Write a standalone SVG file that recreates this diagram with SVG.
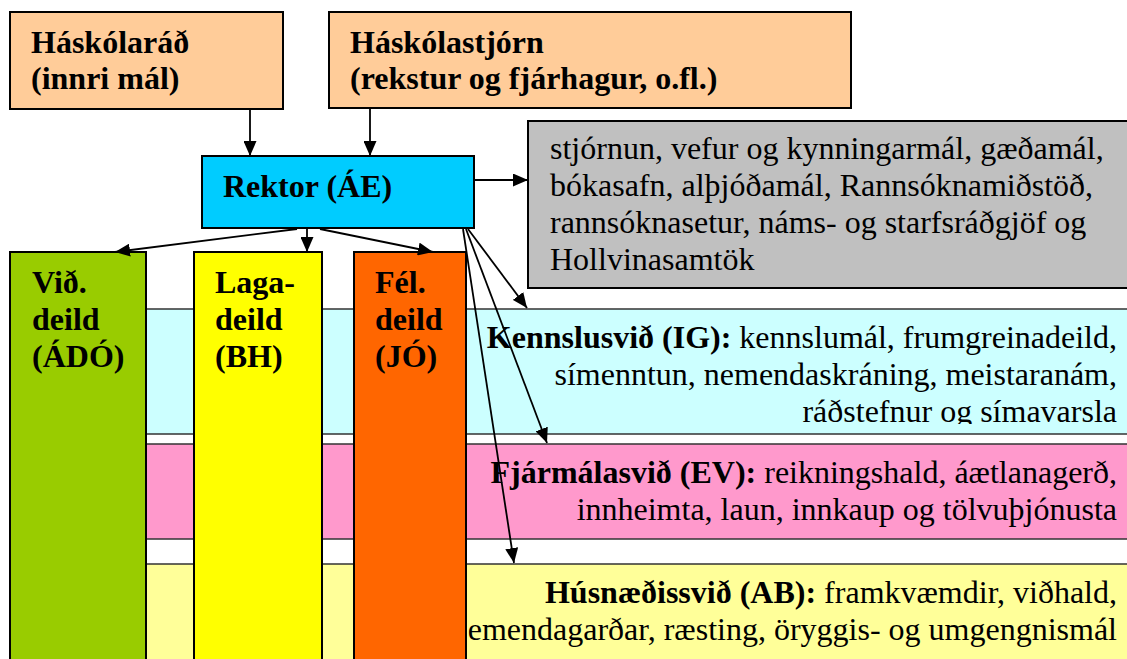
<svg xmlns="http://www.w3.org/2000/svg" width="1127" height="659" viewBox="0 0 1127 659" font-family="'Liberation Serif', 'Times New Roman', Times, serif">
<style>
text{font-family:'Liberation Serif','Times New Roman',Times,serif;font-size:32px;fill:#000}
.b{font-weight:bold}
.box{stroke:#000;stroke-width:2}
.band{stroke:#333;stroke-width:1.5}
.conn line{stroke:#000;stroke-width:1.8;fill:none;marker-end:url(#ah)}
</style>
<defs>
<marker id="ah" viewBox="0 0 15 13" refX="15" refY="6.5" markerWidth="15" markerHeight="13" markerUnits="userSpaceOnUse" orient="auto">
<path d="M0,0 L15,6.5 L0,13 z" fill="#000"/>
</marker>
<clipPath id="kclip"><rect x="140" y="309" width="990" height="115"/></clipPath>
</defs>
<rect width="1127" height="659" fill="#fff"/>
<g id="haskolarad">
<rect class="box" x="10" y="12" width="273" height="97" fill="#FFCC99"/>
<text class="b" x="31" y="53" font-family="Liberation Serif">Háskólaráð</text>
<text class="b" x="31" y="89" font-family="Liberation Serif">(innri mál)</text>
</g>
<g id="haskolastjorn">
<rect class="box" x="329" y="12" width="522" height="96" fill="#FFCC99"/>
<text class="b" x="350" y="53">Háskólastjórn</text>
<text class="b" x="350" y="89">(rekstur og fjárhagur, o.fl.)</text>
</g>
<g id="rektor">
<rect class="box" x="202" y="156" width="272" height="72" fill="#00CCFF"/>
<text class="b" x="223" y="197">Rektor (ÁE)</text>
</g>
<g id="stjornun">
<rect class="box" x="528" y="121" width="602" height="167" fill="#C0C0C0"/>
<text x="550" y="159">stjórnun, vefur og kynningarmál, gæðamál,</text>
<text x="550" y="196">bókasafn, alþjóðamál, Rannsóknamiðstöð,</text>
<text x="550" y="233">rannsóknasetur, náms- og starfsráðgjöf og</text>
<text x="550" y="270">Hollvinasamtök</text>
</g>
<g id="kennslusvid">
<rect class="band" x="140" y="309" width="990" height="125" fill="#CCFFFF"/>
<g clip-path="url(#kclip)">
<text x="1117" y="348" text-anchor="end"><tspan class="b">Kennslusvið (IG):</tspan> kennslumál, frumgreinadeild,</text>
<text x="1117" y="385" text-anchor="end">símenntun, nemendaskráning, meistaranám,</text>
<text x="1117" y="422" text-anchor="end">ráðstefnur og símavarsla</text>
</g>
</g>
<g id="fjarmalasvid">
<rect class="band" x="140" y="444" width="990" height="95" fill="#FF99CC"/>
<text x="1117" y="483" text-anchor="end"><tspan class="b">Fjármálasvið (EV):</tspan> reikningshald, áætlanagerð,</text>
<text x="1117" y="520" text-anchor="end">innheimta, laun, innkaup og tölvuþjónusta</text>
</g>
<g id="husnaedissvid">
<rect class="band" x="140" y="564" width="990" height="100" fill="#FFFF99"/>
<text x="1117" y="603" text-anchor="end"><tspan class="b">Húsnæðissvið (AB):</tspan> framkvæmdir, viðhald,</text>
<text x="1117" y="640" text-anchor="end">emendagarðar, ræsting, öryggis- og umgengnismál</text>
</g>
<g id="vid-deild">
<rect class="box" x="10" y="252" width="136" height="412" fill="#99CC00"/>
<text class="b" x="32" y="293">Við.</text>
<text class="b" x="32" y="330">deild</text>
<text class="b" x="32" y="367">(ÁDÓ)</text>
</g>
<g id="laga-deild">
<rect class="box" x="194" y="252" width="128" height="412" fill="#FFFF00"/>
<text class="b" x="215" y="293">Laga-</text>
<text class="b" x="215" y="330">deild</text>
<text class="b" x="215" y="367">(BH)</text>
</g>
<g id="fel-deild">
<rect class="box" x="354" y="252" width="112" height="412" fill="#FF6600"/>
<text class="b" x="375" y="293">Fél.</text>
<text class="b" x="375" y="330">deild</text>
<text class="b" x="375" y="367">(JÓ)</text>
</g>
<g id="connectors" class="conn">
<line x1="250" y1="109" x2="250" y2="156"/>
<line x1="370" y1="108" x2="370" y2="156"/>
<line x1="474" y1="180" x2="528" y2="180"/>
<line x1="297" y1="229" x2="115" y2="252"/>
<line x1="307" y1="229" x2="307" y2="252"/>
<line x1="320" y1="229" x2="433" y2="252"/>
<line x1="468" y1="229" x2="527" y2="308"/>
<line x1="466" y1="229" x2="547" y2="443"/>
<line x1="463" y1="229" x2="514" y2="563"/>
</g>
</svg>
